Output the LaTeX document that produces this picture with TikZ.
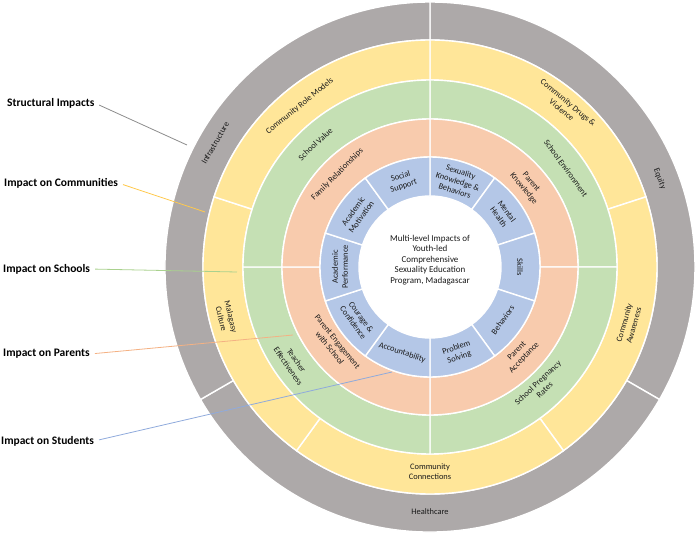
\documentclass[tikz,border=0pt]{standalone}
\usepackage{fontspec}
\setmainfont{Carlito}
\definecolor{ringgray}{HTML}{ADA9A9}
\definecolor{ringyellow}{HTML}{FFE699}
\definecolor{ringgreen}{HTML}{C5E0B4}
\definecolor{ringorange}{HTML}{F8CBAD}
\definecolor{ringblue}{HTML}{B4C7E7}
\definecolor{txt}{HTML}{1A1A1A}
\definecolor{lgray}{HTML}{8C8C8C}
\definecolor{lyellow}{HTML}{FFC94D}
\definecolor{lgreen}{HTML}{A9D18E}
\definecolor{lorange}{HTML}{F4B183}
\definecolor{lblue}{HTML}{8FAADC}
\newcommand\annsec[5]{%
  \filldraw[fill=#1, draw=white, line width=1.4pt]
    (#4:#3pt) arc[start angle=#4, end angle=#5, radius=#3pt]
    -- (#5:#2pt) arc[start angle=#5, end angle=#4, radius=#2pt] -- cycle;}
\begin{document}
\begin{tikzpicture}[x=1pt,y=1pt,
  ringlab/.style={font=\fontsize{8.4}{10}\selectfont, text=txt, align=center, inner sep=0pt},
  centerlab/.style={font=\fontsize{9}{10.4}\selectfont, text=txt, align=center, inner sep=0pt},
  sidelab/.style={font=\fontsize{11.5}{13}\selectfont\bfseries, text=black, anchor=west, inner sep=0pt},
  leader/.style={line width=0.8pt, shorten <=5pt}]
\useasboundingbox (-430,-266) rectangle (266,267);
% gray ring (structural)
\annsec{ringgray}{227}{265}{90}{-30}
\annsec{ringgray}{227}{265}{-30}{-150}
\annsec{ringgray}{227}{265}{-150}{-270}
% yellow ring (communities)
\annsec{ringyellow}{187}{227}{90}{18}
\annsec{ringyellow}{187}{227}{18}{-54}
\annsec{ringyellow}{187}{227}{-54}{-126}
\annsec{ringyellow}{187}{227}{-126}{-198}
\annsec{ringyellow}{187}{227}{162}{90}
% green ring (schools)
\annsec{ringgreen}{148}{187}{90}{0}
\annsec{ringgreen}{148}{187}{0}{-90}
\annsec{ringgreen}{148}{187}{-90}{-180}
\annsec{ringgreen}{148}{187}{180}{90}
% orange ring (parents)
\annsec{ringorange}{110}{148}{90}{0}
\annsec{ringorange}{110}{148}{0}{-90}
\annsec{ringorange}{110}{148}{-90}{-180}
\annsec{ringorange}{110}{148}{180}{90}
% blue ring (students)
\foreach \a in {90,54,18,-18,-54,-90,-126,-162,-198,-234}{
  \pgfmathsetmacro\b{\a-36}
  \annsec{ringblue}{71}{110}{\a}{\b}
}
\fill[white] (0,0) circle[radius=70pt];
% center text
\node[centerlab] (center) at (0,7) {Multi-level Impacts of\\Youth-led\\Comprehensive\\Sexuality Education\\Program, Madagascar};
% blue labels
\node[ringlab, rotate=18] (socsup) at (108:90pt) {Social\\Support};
\node[ringlab, rotate=-18] (sexkb) at (72:90pt) {Sexuality\\Knowledge \&\\Behaviors};
\node[ringlab, rotate=-54] (menth) at (36:90pt) {Mental\\Health};
\node[ringlab, rotate=-90] (skills) at (0:90pt) {Skills};
\node[ringlab, rotate=54] (behav) at (-36:90pt) {Behaviors};
\node[ringlab, rotate=18] (probs) at (-72:90pt) {Problem\\Solving};
\node[ringlab, rotate=-18] (accnt) at (-108:90pt) {Accountability};
\node[ringlab, rotate=-54] (courage) at (-144:90pt) {Courage \&\\Confidence};
\node[ringlab, rotate=90] (acperf) at (180:90pt) {Academic\\Performance};
\node[ringlab, rotate=54] (acmot) at (144:90pt) {Academic\\Motivation};
% orange labels
\node[ringlab, rotate=45] (famrel) at (135:131pt) {Family Relationships};
\node[ringlab, rotate=-50] (parknow) at (40:127pt) {Parent\\Knowledge};
\node[ringlab, rotate=46] (paracc) at (-44:126pt) {Parent\\Acceptance};
\node[ringlab, rotate=-51] (pareng) at (-141:124pt) {Parent Engagement\\with School};
% green labels
\node[ringlab, rotate=43] (schval) at (133:168pt) {School Value};
\node[ringlab, rotate=-54] (schenv) at (36:168pt) {School Environment};
\node[ringlab, rotate=43] (schpreg) at (-47:163pt) {School Pregnancy\\Rates};
\node[ringlab, rotate=-55] (teach) at (-145:168pt) {Teacher\\Effectiveness};
% yellow labels
\node[ringlab, rotate=39] (crm) at (129:207pt) {Community Role Models};
\node[ringlab, rotate=-40] (cdv) at (50:210pt) {Community Drugs \&\\Violence};
\node[ringlab, rotate=74] (caw) at (-16:207pt) {Community\\Awareness};
\node[ringlab] (ccon) at (-90:205pt) {Community\\Connections};
\node[ringlab, rotate=-76] (mcul) at (-166:210pt) {Malagasy\\Culture};
% gray labels
\node[ringlab, rotate=60] (infra) at (150:248pt) {Infrastructure};
\node[ringlab, rotate=-69] (equity) at (21:246pt) {Equity};
\node[ringlab] (health) at (-90:245pt) {Healthcare};
% side labels
\node[sidelab] (labS) at (-423,164) {Structural Impacts};
\node[sidelab] (labC) at (-426,84) {Impact on Communities};
\node[sidelab] (labSc) at (-427,-2) {Impact on Schools};
\node[sidelab] (labP) at (-427,-87) {Impact on Parents};
\node[sidelab] (labSt) at (-429,-174) {Impact on Students};
% leader ends
\coordinate (endS) at (-243,122);
\coordinate (endC) at (-225,55);
\coordinate (endSc) at (-193,-5);
\coordinate (endP) at (-137,-68);
\coordinate (endSt) at (-38,-105);
\draw[leader, lgray] (labS.east) -- (endS);
\draw[leader, lyellow] (labC.east) -- (endC);
\draw[leader, lgreen] (labSc.east) -- (endSc);
\draw[leader, lorange] (labP.east) -- (endP);
\draw[leader, lblue] (labSt.east) -- (endSt);
\end{tikzpicture}
\end{document}
